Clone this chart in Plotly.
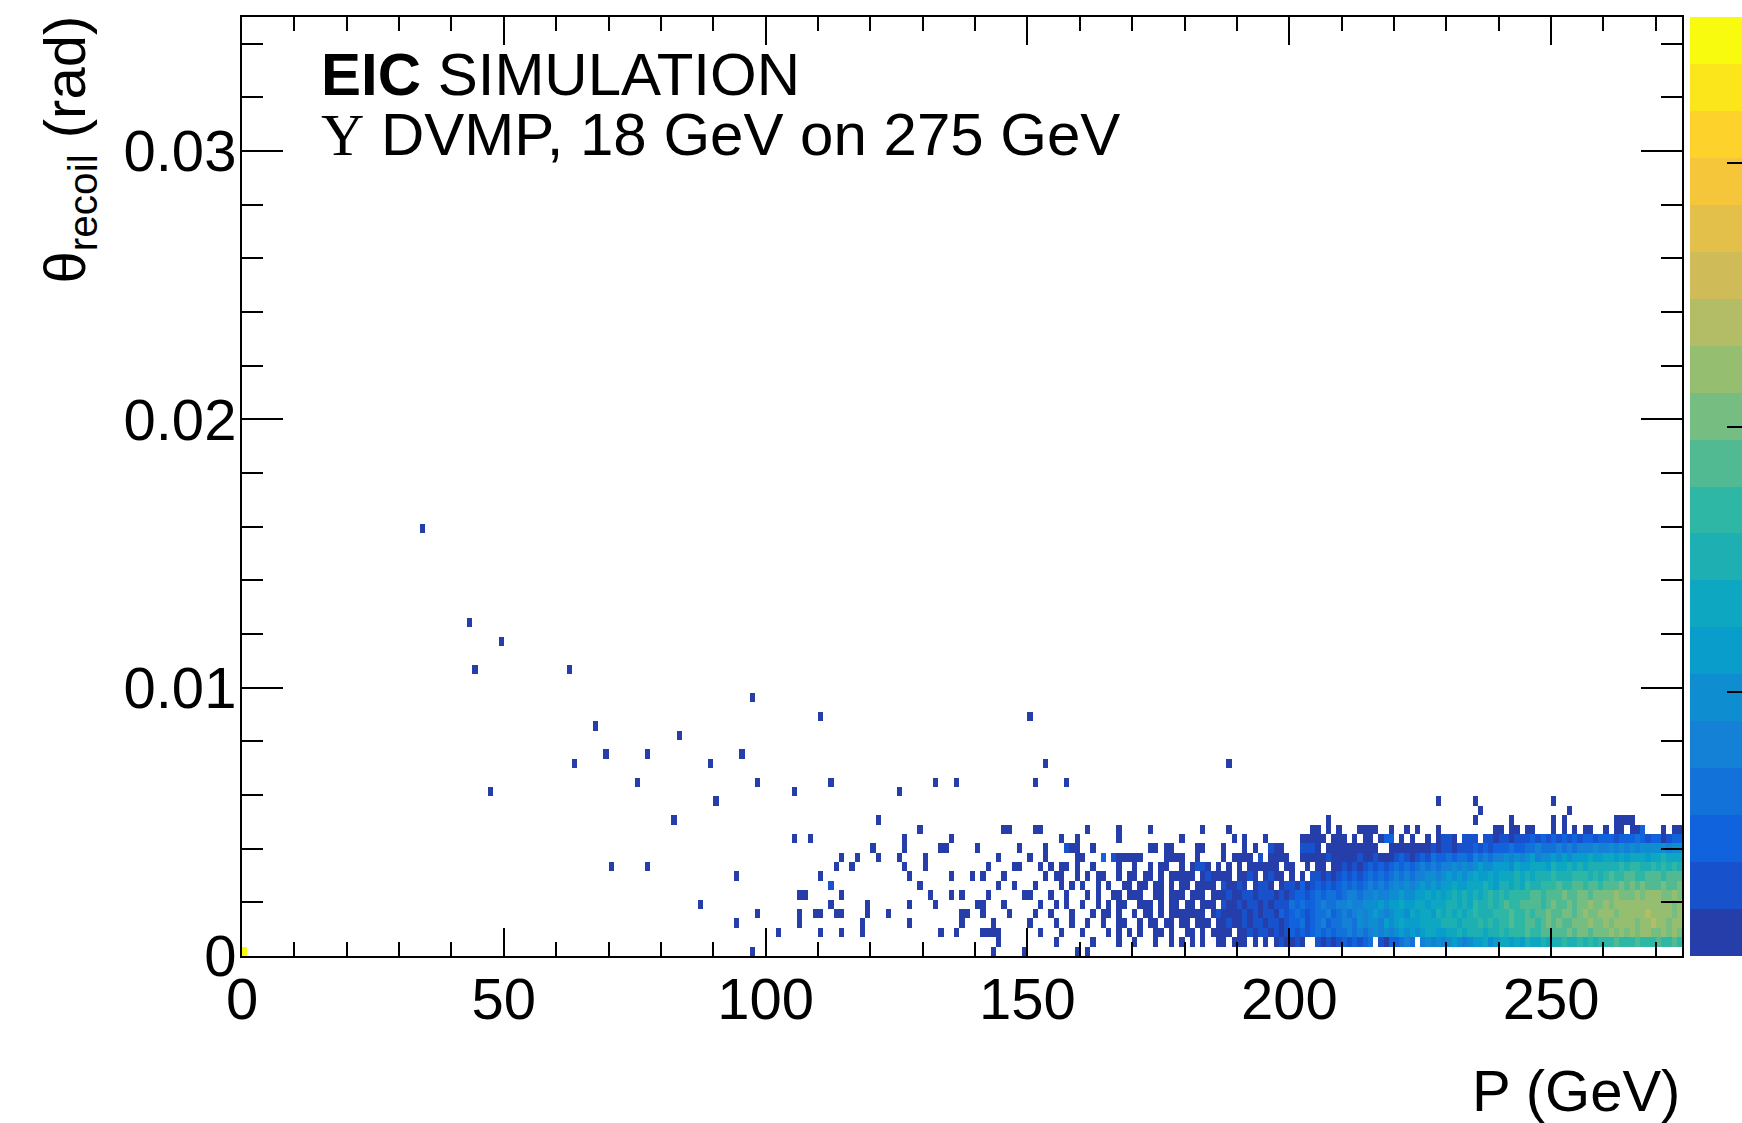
import numpy as np
import plotly.graph_objects as go

# ---- binning of the 2D histogram ----
P_RANGE = (0.0, 275.0)       # GeV
N_P = 275                    # 1 GeV bins
TH_RANGE = (0.0, 0.035)      # rad
N_TH = 100                   # 0.35 mrad bins

# counts represented by each colour-level character used in the row strings
LEVEL_COUNTS = {'0': 1, '1': 2, '2': 3, '3': 4, '4': 6, '5': 9, '6': 14, '7': 21,
                '8': 33, '9': 50, 'a': 75, 'b': 115, 'c': 175, 'd': 260}

# isolated bins: (P bin, theta bin, counts)
SPARSE = [
    (0, 0, 3575),
    (34, 45, 1), (43, 35, 1), (49, 33, 1), (44, 30, 1), (62, 30, 1), (67, 24, 1),
    (69, 21, 1), (77, 21, 1), (63, 20, 1), (75, 18, 1), (47, 17, 1), (70, 9, 1), (77, 9, 1),
    (97, 27, 1), (110, 25, 1), (150, 25, 1), (83, 23, 1), (95, 21, 1), (89, 20, 1),
    (153, 20, 1), (98, 18, 1), (112, 18, 1), (132, 18, 1), (136, 18, 1), (151, 18, 1),
    (157, 18, 1), (105, 17, 1), (125, 17, 1), (90, 16, 1),
    (188, 20, 1), (228, 16, 1), (235, 16, 1), (250, 16, 1), (236, 15, 1), (253, 15, 1),
    (82, 14, 1), (121, 14, 1), (129, 13, 1), (105, 12, 1), (108, 12, 1), (126, 12, 1),
    (135, 12, 1), (120, 11, 1), (126, 11, 1), (133, 11, 1), (134, 11, 1),
    (114, 10, 1), (117, 10, 1), (121, 10, 1), (125, 10, 1), (130, 10, 1),
    (113, 9, 1), (116, 9, 1), (126, 9, 1), (130, 9, 1),
    (94, 8, 1), (110, 8, 1), (127, 8, 1), (135, 8, 1), (139, 8, 1), (112, 7, 2), (129, 7, 1),
    (106, 6, 1), (107, 6, 1), (114, 6, 1), (131, 6, 1), (135, 6, 1), (137, 6, 1),
    (87, 5, 1), (112, 5, 1), (119, 5, 1), (127, 5, 1), (132, 5, 1),
    (98, 4, 1), (106, 4, 1), (109, 4, 1), (110, 4, 1), (113, 4, 1), (114, 4, 1),
    (119, 4, 1), (123, 4, 1), (137, 4, 1), (138, 4, 1),
    (94, 3, 1), (106, 3, 1), (118, 3, 1), (127, 3, 1), (137, 3, 1),
    (102, 2, 1), (110, 2, 1), (114, 2, 1), (118, 2, 1), (133, 2, 1), (136, 2, 1),
    (97, 0, 1), (143, 0, 1), (149, 0, 1), (159, 0, 1), (161, 0, 1),
]

# dense band: P bins 140..199 in blocks of 10, then 200..274 in blocks of 5
DENSE_P_START = 140
DENSE_LOW = {
    1:  ["....0.....", ".....0....", "..0....0..", "0...0..0.0", ".0.0..00.0", "00.0.0.010"],
    2:  [".0000.....", "..0...0...", "0....0.0.0", ".0..00.0..", "00.0.0000.", "0010110101"],
    3:  ["...0......", "0....0..0.", ".0..0..00.", ".0.00.00.0", "0.000.0010", "0101101101"],
    4:  [".0....0...", ".0..0...0.", "..0.00.0..", "0.00.0.000", "0000.01000", "0101011021"],
    5:  ["00...0....", "..0..0.0..", "0..0.0.00.", ".000.0.00.", "00.000.100", "1011010111"],
    6:  ["..0......0", "0...0..0..", ".0.0..00.0", "00..00.000", ".000.00010", "0110111010"],
    7:  ["....0..0..", ".0....0.0.", "0..0.0..00", ".00.00.0.0", "0.0000.100", "10.0110.01"],
    8:  [".0...0....", "...0.00..0", ".0.00..0.0", "0.00.0.000", "00.010000.", "0010.0100."],
    9:  ["..0....00.", "..0.0.00.0", "..0....0..", "0..0.00..0", ".0110.0.0.", "0.000000.0"],
    10: ["....0.....", "0..0.....0", "0...2.1000", "00....0000", "..0....0.0", "000.1.0000"],
    11: ["0.......0.", "...0...100", "..0.......", "...00.00..", "..00...0..", ".0.0..100."],
    12: ["..........", "......0..0", ".......0..", ".........0", ".........0", ".0...0...."],
    13: [".....00...", ".00.......", ".0.....0..", "...0......", "...0....0.", ".........."],
    14: ["..........", "..........", "..........", "..........", "..........", ".........."],
}
DENSE_HIGH = {
    1:  ["010..", "10101", "21212", "3.102", "2343.", "45454", "56545", "66756",
         "77676", "87787", "88988", "98989", "99a99", "9a999", "a99a9"],
    2:  ["21212", "32323", "34343", "45454", "56565", "67766", "77878", "88788",
         "98999", "a99aa", "aaaba", "bbabb", "bcbcb", "cbccb", "bcbcb"],
    3:  ["22312", "34233", "44354", "55465", "67666", "77778", "88788", "89898",
         "99a99", "aa9ab", "abaab", "bbcbb", "cbccc", "cbccd", "ccbcc"],
    4:  ["23212", "33423", "43454", "56545", "66576", "77687", "87878", "98889",
         "99a99", "a9aab", "aabba", "bcbbc", "ccbcc", "cccdc", "cccbc"],
    5:  ["32322", "34334", "45445", "55656", "67667", "76777", "88787", "98898",
         "9a99a", "aaa9a", "baaba", "bbcbb", "cbccc", "ccccc", "cccbc"],
    6:  ["12212", "32332", "34434", "45445", "56556", "67676", "78787", "87898",
         "98999", "9aa9a", "aabaa", "bbabb", "bbcbb", "bcbcc", "cbbcb"],
    7:  ["10201", "21212", "32323", "43434", "54545", "65656", "67667", "77876",
         "88787", "98899", "9a99a", "a9aa9", "aaaba", "babaa", "abaab"],
    8:  ["0.0.1", "10101", "21212", "32323", "43434", "45545", "65656", "76676",
         "77787", "87888", "98889", "99898", "9a99a", "a99aa", "a9aaa"],
    9:  ["0..0.", "00.00", "10101", "21212", "32323", "43434", "45454", "56556",
         "66576", "67776", "87787", "87888", "88898", "99889", "89898"],
    10: ["..000", "00100", "00010", "01000", "12101", "21322", "32332", "43434",
         "45454", "56455", "65656", "66766", "77676", "77767", "78777"],
    11: ["..111", "0.000", "00000", "00..0", "00000", "00101", "10111", "21212",
         "22322", "33433", "34343", "44454", "45454", "54555", "55455"],
    12: ["..000", "00.00", "0.0.0", "0.022", ".0.0.", ".0.01", "10.11", "1.110",
         "11011", "12121", "21212", "12212", "22122", "23212", "20122"],
    13: ["....0", "0.0.0", "...00", "00..0", "..0.0", "...0.", ".....", "....0",
         "0.00.", "00...", "0.0.0", ".00..", "0.00.", "002..", ".0.00"],
    14: [".....", "..0..", ".....", ".....", ".....", ".....", ".....", "0....",
         "..0..", ".....", "0.0..", ".....", "..000", "0....", "....."],
}

# ---- fill the histogram ----
counts = np.zeros((N_TH, N_P))
for row in DENSE_LOW:
    line = "".join(DENSE_LOW[row]) + "".join(DENSE_HIGH[row])
    assert len(line) == N_P - DENSE_P_START, (row, len(line))
    for k, ch in enumerate(line):
        if ch != '.':
            counts[row, DENSE_P_START + k] = LEVEL_COUNTS[ch]
for pb, tb, c in SPARSE:
    counts[tb, pb] = c

zlog = np.where(counts > 0, np.log10(np.where(counts > 0, counts, 1)), np.nan)
zmax = float(np.log10(counts.max()))

p_w = (P_RANGE[1] - P_RANGE[0]) / N_P
t_w = (TH_RANGE[1] - TH_RANGE[0]) / N_TH
p_centers = P_RANGE[0] + (np.arange(N_P) + 0.5) * p_w
t_centers = TH_RANGE[0] + (np.arange(N_TH) + 0.5) * t_w

# ---- ROOT kBird palette, 20 contour levels ----
BIRD_STOPS = [0.0, 0.125, 0.25, 0.375, 0.5, 0.625, 0.75, 0.875, 1.0]
BIRD_R = [0.2082, 0.0592, 0.0780, 0.0232, 0.1802, 0.5301, 0.8186, 0.9956, 0.9764]
BIRD_G = [0.1664, 0.3599, 0.5041, 0.6419, 0.7178, 0.7492, 0.7328, 0.7862, 0.9832]
BIRD_B = [0.5293, 0.8684, 0.8385, 0.7914, 0.6425, 0.4662, 0.3499, 0.1968, 0.0539]
N_LEVELS = 20


def bird(f):
    r = np.interp(f, BIRD_STOPS, BIRD_R)
    g = np.interp(f, BIRD_STOPS, BIRD_G)
    b = np.interp(f, BIRD_STOPS, BIRD_B)
    return "rgb(%d,%d,%d)" % (round(r * 255), round(g * 255), round(b * 255))


colorscale = []
for i in range(N_LEVELS):
    c = bird(min(1.0, (i + 0.99) / N_LEVELS))
    colorscale.append([i / N_LEVELS, c])
    colorscale.append([(i + 1) / N_LEVELS, c])

FONT = "Liberation Sans, Arial, Helvetica, sans-serif"

fig = go.Figure(go.Heatmap(
    x=p_centers, y=t_centers, z=zlog,
    zmin=0.0, zmax=zmax, colorscale=colorscale,
    hoverongaps=False,
    colorbar=dict(
        x=1.0056, xanchor="left", xpad=0, y=0.5, yanchor="middle",
        len=1.0, lenmode="fraction", ypad=0, thickness=60,
        outlinewidth=0, tickmode="array", tickvals=[0, 1, 2, 3],
        ticks="inside", ticklen=23, tickwidth=2, tickcolor="black",
        showticklabels=False,
    ),
))

axis_common = dict(
    showline=True, linewidth=2, linecolor="black", mirror="ticks",
    ticks="inside", tickwidth=2, tickcolor="black",
    showgrid=False, zeroline=False, tickfont=dict(family=FONT, size=58, color="black"),
)

fig.update_xaxes(range=list(P_RANGE), tickmode="linear", tick0=0, dtick=50, ticklen=28,
                 minor=dict(dtick=10, ticks="inside", ticklen=14, tickwidth=2,
                            tickcolor="black", showgrid=False),
                 ticklabelstandoff=-9, **axis_common)
fig.update_yaxes(range=list(TH_RANGE), tickmode="linear", tick0=0, dtick=0.01, ticklen=41,
                 minor=dict(dtick=0.002, ticks="inside", ticklen=21, tickwidth=2,
                            tickcolor="black", showgrid=False),
                 ticklabelstandoff=-8, **axis_common)

fig.update_layout(
    width=1742, height=1123,
    margin=dict(l=242, r=60, t=17, b=167, pad=0, autoexpand=False),
    paper_bgcolor="white", plot_bgcolor="white",
    font=dict(family=FONT, size=58, color="black"),
    annotations=[
        dict(text="<b>EIC</b> SIMULATION", xref="paper", yref="paper",
             x=0.0535, y=0.9765, xanchor="left", yanchor="top", showarrow=False,
             font=dict(family=FONT, size=60, color="black")),
        dict(text='<span style="font-family:Liberation Serif">Υ</span> DVMP, 18 GeV on 275 GeV',
             xref="paper", yref="paper",
             x=0.0535, y=0.9125, xanchor="left", yanchor="top", showarrow=False,
             font=dict(family=FONT, size=60, color="black")),
        dict(text="P (GeV)", xref="paper", yref="paper",
             x=1.0, y=-0.107, xanchor="right", yanchor="top", showarrow=False,
             font=dict(family=FONT, size=58, color="black")),
        dict(text="θ<sub>recoil</sub> (rad)", xref="paper", yref="paper",
             x=-0.147, y=1.004, xanchor="left", yanchor="top", textangle=-90,
             showarrow=False, font=dict(family=FONT, size=58, color="black")),
    ],
)

fig.write_html("out.html")
